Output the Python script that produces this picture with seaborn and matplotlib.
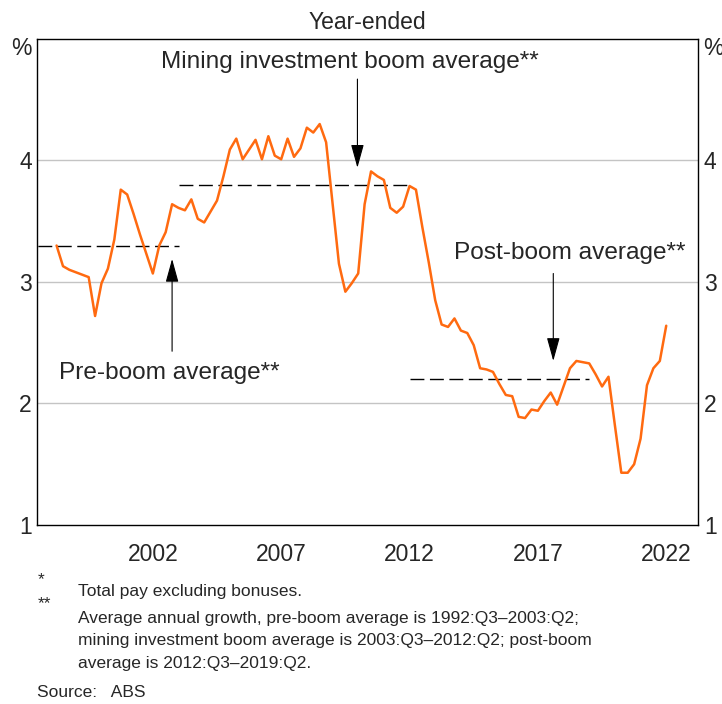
import pandas as pd
import seaborn as sns
from matplotlib import pyplot as plt

# quarterly year-ended wage growth, %
quarters = pd.period_range('1998Q3', '2022Q2', freq='Q')
wage_growth = [
    3.30, 3.13, 3.10, 3.08, 3.06, 3.04, 2.72, 2.99, 3.11, 3.35,
    3.76, 3.72, 3.56, 3.39, 3.23, 3.07, 3.30, 3.41, 3.64, 3.61,
    3.59, 3.68, 3.52, 3.49, 3.58, 3.67, 3.87, 4.09, 4.18, 4.01,
    4.09, 4.17, 4.01, 4.20, 4.04, 4.01, 4.18, 4.03, 4.10, 4.27,
    4.23, 4.30, 4.15, 3.65, 3.15, 2.92, 2.99, 3.07, 3.64, 3.91,
    3.87, 3.84, 3.61, 3.57, 3.62, 3.79, 3.76, 3.45, 3.16, 2.85,
    2.65, 2.63, 2.70, 2.60, 2.58, 2.48, 2.29, 2.28, 2.26, 2.16,
    2.07, 2.06, 1.89, 1.88, 1.95, 1.94, 2.02, 2.09, 1.99, 2.14,
    2.29, 2.35, 2.34, 2.33, 2.24, 2.14, 2.22, 1.82, 1.43, 1.43,
    1.50, 1.71, 2.15, 2.29, 2.35, 2.64,
]

# period averages
avg_names = ['Pre-boom average**', 'Mining investment boom average**', 'Post-boom average**']
avg_start = [1992.5, 2003.5, 2012.5]
avg_end = [2003.5, 2012.5, 2019.5]
avg_value = [3.30, 3.80, 2.20]

# annotation text position and arrow (tail -> head)
label_xy = [(2003.13, 2.25), (2010.18, 4.81), (2018.73, 3.24)]
arrow_tail = [(2003.25, 2.43), (2010.47, 4.67), (2018.1, 3.07)]
arrow_head = [(2003.25, 3.19), (2010.47, 3.94), (2018.1, 2.35)]

year_labels = [2002, 2007, 2012, 2017, 2022]

df = pd.DataFrame({'date': quarters.year + quarters.quarter / 4, 'growth': wage_growth})

sns.set_style('white')
plt.rcParams['font.family'] = ['Liberation Sans', 'DejaVu Sans']

fig = plt.figure(figsize=(7.22, 7.04), dpi=100)
ax = fig.add_axes([0.0517, 0.2543, 0.9155, 0.6903])

ax.set_axisbelow(True)
for g in [2, 3, 4]:
    ax.axhline(g, color='#c4c4c4', lw=1.0, zorder=0)

for s, e, v in zip(avg_start, avg_end, avg_value):
    ax.plot([s, e], [v, v], color='black', lw=1.0, dashes=(10, 4), zorder=2)

sns.lineplot(data=df, x='date', y='growth', color='#ff6a10', lw=1.8, ax=ax, zorder=3)

for name, (tx, ty), tail, head in zip(avg_names, label_xy, arrow_tail, arrow_head):
    ax.text(tx, ty, name, ha='center', va='center', fontsize=17.6)
    ax.annotate('', xy=head, xytext=tail,
                arrowprops=dict(arrowstyle='-|>,head_length=1.45,head_width=0.4',
                                color='black', lw=0.8, shrinkA=0, shrinkB=0,
                                mutation_scale=10))

ax.set_xlim(1998, 2023.75)
ax.set_ylim(1, 5)
ax.set_xticks(range(1999, 2024))
ax.set_xticklabels([])
ax.set_xticks([y + 0.5 for y in year_labels], minor=True)
ax.set_xticklabels([str(y) for y in year_labels], minor=True, fontsize=16.5)
ax.tick_params(axis='x', which='major', direction='in', length=8.5, width=1.0, color='black')
ax.tick_params(axis='x', which='minor', length=0, pad=13)
ax.set_yticks([1, 2, 3, 4])
ax.set_yticklabels(['1', '2', '3', '4'], fontsize=16.5)
ax.tick_params(axis='y', length=0, pad=4, labelright=True)
ax.set_xlabel('')
ax.set_ylabel('')
for sp in ax.spines.values():
    sp.set_color('black')
    sp.set_linewidth(1.0)
    sp.set_visible(True)

ax.text(-0.008, 0.981, '%', transform=ax.transAxes, ha='right', va='center', fontsize=16.5)
ax.text(1.007, 0.981, '%', transform=ax.transAxes, ha='left', va='center', fontsize=16.5)
fig.text(0.509, 0.968, 'Year-ended', ha='center', va='center', fontsize=16.5)

# footnotes
fs = 12.5
fig.text(0.052, 0.176, '*', ha='left', va='center', fontsize=fs)
fig.text(0.108, 0.160, 'Total pay excluding bonuses.', ha='left', va='center', fontsize=fs)
fig.text(0.052, 0.142, '**', ha='left', va='center', fontsize=fs)
fig.text(0.108, 0.122, 'Average annual growth, pre-boom average is 1992:Q3–2003:Q2;',
         ha='left', va='center', fontsize=fs)
fig.text(0.108, 0.0895, 'mining investment boom average is 2003:Q3–2012:Q2; post-boom',
         ha='left', va='center', fontsize=fs)
fig.text(0.108, 0.058, 'average is 2012:Q3–2019:Q2.', ha='left', va='center', fontsize=fs)
fig.text(0.051, 0.017, 'Source:   ABS', ha='left', va='center', fontsize=fs)

fig.savefig('out.png', dpi=100)
